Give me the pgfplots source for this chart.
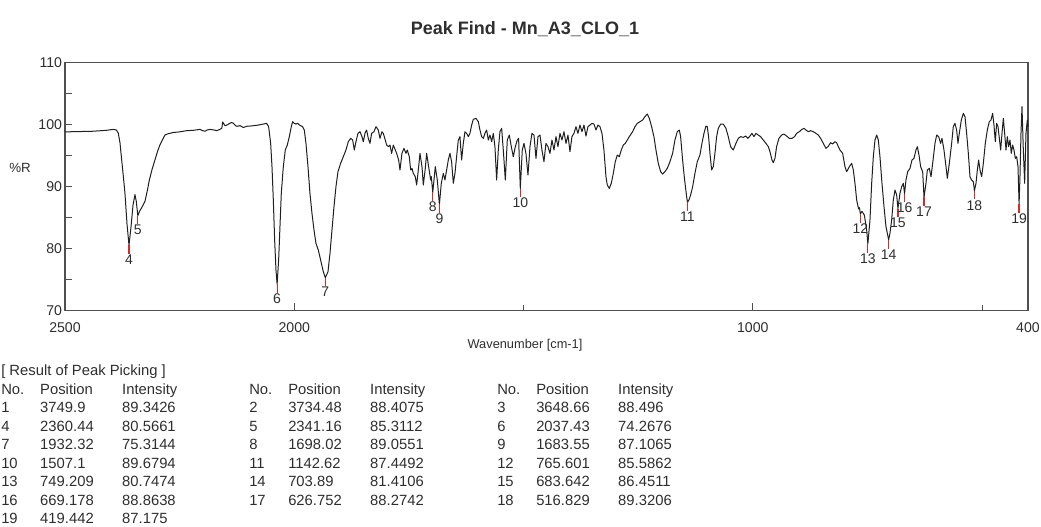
\documentclass[border=0pt]{standalone}
\usepackage{fontspec}
\setmainfont{Liberation Sans}
\usepackage{pgfplots}
\usepackage{pgfplotstable}
\pgfplotsset{compat=1.18}
\definecolor{axisgray}{HTML}{505050}
\definecolor{peakred}{HTML}{D42A2A}
\definecolor{labelgray}{HTML}{2E2E2E}

\pgfplotstableread{
w R
2500 98.8
2470 98.85
2440 98.9
2410 99.05
2395 99.2
2388 99.1
2383.8 98.6
2380 97.0
2376.4 94.3
2372.7 91.6
2369.2 88.9
2364.8 84.0
2360.44 80.57
2356 83.5
2351.7 87.0
2347.4 88.7
2344.5 87.6
2341.16 85.31
2337.5 86.0
2332.7 86.6
2325.6 87.6
2320 89.5
2316.2 91.0
2310 92.8
2303.7 94.3
2298 95.7
2292.9 96.7
2287 97.6
2282 98.3
2275 98.5
2263.8 98.7
2250 98.8
2234.6 99.0
2220 99.05
2205.6 99.2
2200 99.0
2194.7 98.9
2190 99.1
2183.8 99.2
2175 99.1
2169.2 99.0
2162 99.2
2158 99.4
2156.1 100.4
2153 100.0
2151.1 99.8
2147 99.9
2144.6 100.0
2140 100.2
2137 100.3
2133 100.2
2128 99.8
2124.9 99.7
2118 99.8
2111.2 99.5
2104 99.7
2096.6 99.74
2082.1 99.85
2067.5 100.06
2060.3 100.17
2055.9 99.64
2051.5 96.95
2048.6 93.19
2045.7 87.83
2042.8 81.38
2039.9 76.55
2037.43 74.27
2034.1 78.16
2031.2 83.53
2028.3 88.90
2023.9 93.19
2019.6 95.88
2015.2 96.68
2010.8 98.03
2006.5 99.64
2003.6 100.44
1999.9 100.17
1996.3 100.06
1992.7 100.17
1987.6 99.85
1981.8 99.64
1978.1 99.10
1974.5 96.95
1970.1 93.19
1965.8 88.90
1961.4 85.68
1957.0 83.00
1952.7 80.85
1947.6 79.77
1942.5 78.16
1936.7 76.28
1932.32 75.31
1926.5 76.28
1922.1 79.24
1917.8 83.00
1913.4 86.75
1909.1 89.97
1904.7 92.39
1898.9 93.73
1893.1 94.80
1887.3 95.88
1882.2 97.22
1877.1 97.76
1872.7 97.49
1869.1 95.88
1865.5 97.22
1861.1 98.56
1856.7 98.83
1852.4 98.03
1849.5 97.22
1845.8 98.56
1842.2 99.10
1838.6 97.76
1834.9 96.95
1831.3 98.56
1826.2 98.83
1821.8 99.64
1816.8 99.10
1813.1 97.76
1808.8 98.83
1805.9 98.56
1801.5 97.49
1798.6 96.68
1794.2 96.42
1791.3 96.68
1787.7 95.34
1784.0 96.68
1779.7 95.88
1776.8 95.34
1772.4 94.27
1769.5 92.66
1765.2 95.34
1760.8 96.15
1756.4 95.34
1753.5 95.88
1749.2 94.80
1746.2 92.66
1743.3 92.93
1740.4 92.12
1736.1 91.58
1733.2 90.24
1729.5 92.66
1725.9 95.34
1721.5 93.19
1718.6 90.24
1714.3 92.93
1711.4 95.34
1707.0 93.19
1702.6 91.05
1701.2 91.6
1698.02 89.06
1692.5 93.19
1688.1 91.05
1683.55 87.11
1679.4 90.51
1675.0 92.12
1671.4 91.05
1667.8 92.66
1664.1 94.27
1660.5 95.34
1656.9 94.0
1653.2 90.51
1649.6 92.12
1646.0 94.80
1642.3 97.49
1638.7 98.03
1635.1 94.27
1631.4 96.95
1627.8 98.83
1624.2 98.56
1620.5 98.03
1616.9 98.56
1613.2 99.90
1609.6 100.82
1603.8 100.98
1598.7 100.44
1595.1 99.10
1591.4 98.03
1587.8 97.76
1584.2 98.56
1580.5 99.10
1576.9 97.49
1573.3 98.29
1569.6 97.22
1566.0 98.56
1562.4 96.42
1558.7 91.05
1555.1 95.88
1551.5 98.83
1547.8 99.37
1544.2 95.88
1539.8 91.05
1535.5 97.49
1531.1 98.29
1526.7 96.42
1522.4 94.80
1518.0 96.42
1513.7 97.49
1510.8 97.76
1507.1 89.68
1502.8 95.88
1499.1 96.95
1494.8 95.34
1490.4 91.85
1486.0 96.42
1481.7 98.56
1477.3 98.29
1472.9 94.54
1468.6 98.03
1464.2 98.29
1459.9 95.88
1455.5 94.00
1451.2 96.95
1446.8 96.42
1442.4 95.34
1438.1 97.49
1433.7 95.88
1429.3 98.03
1425.0 96.42
1420.6 98.56
1416.3 97.49
1411.9 98.83
1407.5 96.95
1403.2 98.29
1398.8 95.61
1394.5 98.03
1390.1 98.56
1385.7 99.64
1381.4 98.56
1377.0 99.90
1372.6 98.83
1368.3 99.90
1363.9 98.13
1359.6 99.64
1355.2 99.90
1350.8 100.17
1346.5 100.06
1342.1 99.10
1337.8 99.90
1333.4 99.64
1329.0 98.56
1324.7 95.88
1320.3 91.58
1317.4 90.24
1313.1 89.70
1308.7 90.51
1304.3 92.12
1300.0 94.00
1295.6 95.07
1291.2 94.80
1286.9 95.88
1282.5 96.68
1278.2 96.95
1273.8 97.49
1269.4 98.03
1262.2 98.83
1257.1 99.64
1252.0 100.17
1246.2 100.44
1240.4 100.71
1235.3 101.25
1230.2 101.68
1225.8 100.98
1220.8 99.64
1215.7 98.03
1211.3 95.88
1206.2 93.73
1201.1 92.39
1196.8 92.01
1191.7 92.39
1186.6 92.93
1180.8 94.00
1175.0 95.34
1169.9 97.49
1164.8 98.83
1160.4 99.10
1157.5 98.03
1153.2 94.27
1148.8 91.05
1144.4 88.36
1142.62 87.45
1139 87.9
1135.7 88.63
1131.3 89.97
1126.3 92.12
1121.2 94.00
1115.4 95.07
1111.0 96.95
1106.6 98.56
1102.3 99.74
1099.4 99.64
1096.5 98.03
1093.5 95.34
1089.9 92.66
1086.3 93.19
1082.7 95.34
1079.0 98.03
1075.4 99.37
1070.3 100.06
1064.5 100.06
1058.7 99.37
1053.6 98.03
1048.5 96.42
1042.7 95.88
1036.9 96.95
1031.8 97.76
1026.7 98.03
1020.9 97.92
1015.8 98.13
1010.7 97.76
1006.3 98.13
1002.0 98.56
997.6 98.03
993.2 98.56
988.2 98.29
983.1 98.03
977.3 97.49
971.4 96.95
966.3 96.42
962.7 95.61
958.3 94.27
955.4 93.84
951.8 94.54
948.2 96.42
943.1 97.76
937.3 98.29
932.2 98.45
926.4 98.13
920.5 97.76
914.7 97.76
908.9 98.03
904.6 98.56
898.7 98.83
892.9 99.21
888.6 99.37
884.2 99.10
879.1 98.83
874.0 98.99
868.2 98.83
862.4 98.56
857.3 98.29
852.2 97.76
846.4 96.95
840.6 96.15
836.2 96.42
830.3 97.06
826.0 96.84
820.9 97.22
817.3 97.06
813.6 96.42
810.0 95.88
804.2 95.34
799.1 93.19
795.4 92.39
789.6 93.19
784.5 93.73
780.9 92.66
777.3 90.51
773.6 87.83
769.5 86.4
767.5 86.6
765.6 85.59
762 86.0
756.9 85.41
751.8 83.0
749.21 80.75
744.6 84.61
740.9 90.51
737.3 94.80
733.7 97.49
730.0 98.29
726.4 97.49
722.8 94.80
718.4 90.51
714.0 86.75
709.7 83.53
703.89 81.41
701.0 82.46
697.3 84.61
693.7 87.83
690.1 89.44
686.4 88.63
683.64 86.45
679.2 88.90
675.5 89.97
671.9 90.51
669.18 88.86
666.1 91.05
662.4 92.39
657.3 92.93
653.0 94.27
648.6 94.54
644.3 95.88
641.3 96.42
637.7 95.07
634.1 93.19
629.7 92.39
626.75 88.27
622.5 90.51
619.5 92.66
615.2 92.93
611.5 91.58
607.9 93.73
602.8 96.95
599.2 98.29
594.8 98.03
590.5 96.95
587.6 97.76
583.2 95.88
578.8 93.19
575.9 91.32
571.6 93.73
566.5 96.95
562.9 99.64
559.2 100.17
555.6 99.10
552.7 96.95
549.8 98.56
545.4 100.71
541.0 101.78
537.4 101.25
533.8 98.56
530.1 95.34
526.5 91.58
522.9 91.05
519.2 90.78
516.83 89.32
513.4 90.51
510.5 92.66
507.6 94.27
504.7 92.66
501.1 91.58
497.4 93.73
493.1 96.95
488.7 99.10
484.4 100.44
480.7 100.71
477.1 101.78
474.2 99.90
471.3 97.22
468.4 100.17
465.4 99.64
462.5 97.76
459.6 95.88
456.7 98.56
453.8 100.98
450.9 98.56
448.0 95.88
445.1 98.03
442.2 96.42
439.3 97.49
436.4 95.34
433.5 96.68
430.6 95.88
427.7 94.54
424.7 94.80
421.8 93.19
419.44 87.18
417.5 91.58
415.3 98.56
413.1 102.86
410.2 95.88
407.3 90.51
404.4 98.56
401.5 100.71
400.0 99.64
}\spectrum

\pgfplotstableread{
n w R e
4 2360.44 80.5661 1.4
5 2341.16 85.3112 1.4
6 2037.43 74.2676 1.4
7 1932.32 75.3144 1.4
8 1698.02 89.0551 1.4
9 1683.55 87.1065 1.4
10 1507.1 89.6794 1.4
11 1142.62 87.4492 1.4
12 765.601 85.5862 1.4
13 749.209 80.7474 1.4
14 703.89 81.4106 1.4
15 683.642 86.4511 1.4
16 669.178 88.8638 1.4
17 626.752 88.2742 1.4
18 516.829 89.3206 1.4
19 419.442 87.175 1.4
}\peaks

\begin{document}
\begin{tikzpicture}
\path[use as bounding box] (0,0) rectangle (780.75pt,395.25pt);
\begin{axis}[
  at={(48.75pt,162.2pt)}, anchor=south west,
  scale only axis, width=722.25pt, height=186.3pt,
  x dir=reverse, xmin=400, xmax=2500, ymin=70, ymax=110,
  xtick={2500,2000,1000,400}, xticklabels={2500,2000,1000,400},
  minor xtick={1500,500},
  ytick={70,75,...,110}, yticklabels={70,,80,,90,,100,,110},
  tick align=inside, xtick pos=bottom, ytick pos=left,
  major tick length=5.5pt, minor tick length=4pt,
  tick style={draw=axisgray, line width=0.8pt},
  axis line style={draw=axisgray, line width=1.1pt},
  /pgf/number format/assume math mode=true,
  every tick label/.append style={font=\fontsize{10.6pt}{12pt}\selectfont, text=labelgray},
  xticklabel style={anchor=base, inner sep=0pt, yshift=-16.5pt},
  yticklabel style={anchor=east, inner sep=0pt, xshift=-2pt},
  clip=false,
]
\addplot[color=black!88, line width=0.75pt, mark=none, line join=round] table[x=w, y=R] {\spectrum};
\addplot[draw=none, mark=none,
  error bars/.cd, y dir=minus, y explicit, error mark=none,
  error bar style={draw=peakred, line width=0.9pt, solid}]
  table[x=w, y=R, y error=e] {\peaks};
\addplot[draw=none, mark=none, nodes near coords, point meta=explicit symbolic,
  every node near coord/.append style={anchor=north, inner sep=0pt, yshift=-7pt,
    font=\fontsize{10.5pt}{12pt}\selectfont, text=labelgray}]
  table[x=w, y=R, meta=n] {\peaks};
\end{axis}
\node[anchor=base, font=\bfseries\fontsize{13.5pt}{16pt}\selectfont, text=labelgray] at (393.75pt,369pt) {Peak Find - Mn\_A3\_CLO\_1};
\node[anchor=base, font=\fontsize{9.6pt}{11pt}\selectfont, text=labelgray] at (393.75pt,133.5pt) {Wavenumber [cm-1]};
\node[font=\fontsize{10pt}{12pt}\selectfont, text=labelgray] at (15pt,269.25pt) {\%R};
\node[anchor=base west, inner sep=0pt, font=\fontsize{11.1pt}{13.875pt}\selectfont, text=labelgray] at (0.75pt,113.25pt) {%
\setlength\tabcolsep{0pt}%
\begin{tabular}[t]{@{}p{29.25pt}p{61.5pt}p{95.25pt}p{29.25pt}p{61.5pt}p{95.25pt}p{29.25pt}p{61.5pt}l@{}}
\multicolumn{9}{@{}l}{[ Result of Peak Picking ]}\\
No. & Position & Intensity & No. & Position & Intensity & No. & Position & Intensity\\
1 & 3749.9 & 89.3426 & 2 & 3734.48 & 88.4075 & 3 & 3648.66 & 88.496\\
4 & 2360.44 & 80.5661 & 5 & 2341.16 & 85.3112 & 6 & 2037.43 & 74.2676\\
7 & 1932.32 & 75.3144 & 8 & 1698.02 & 89.0551 & 9 & 1683.55 & 87.1065\\
10 & 1507.1 & 89.6794 & 11 & 1142.62 & 87.4492 & 12 & 765.601 & 85.5862\\
13 & 749.209 & 80.7474 & 14 & 703.89 & 81.4106 & 15 & 683.642 & 86.4511\\
16 & 669.178 & 88.8638 & 17 & 626.752 & 88.2742 & 18 & 516.829 & 89.3206\\
19 & 419.442 & 87.175 & & & & & & \\
\end{tabular}};
\end{tikzpicture}
\end{document}
